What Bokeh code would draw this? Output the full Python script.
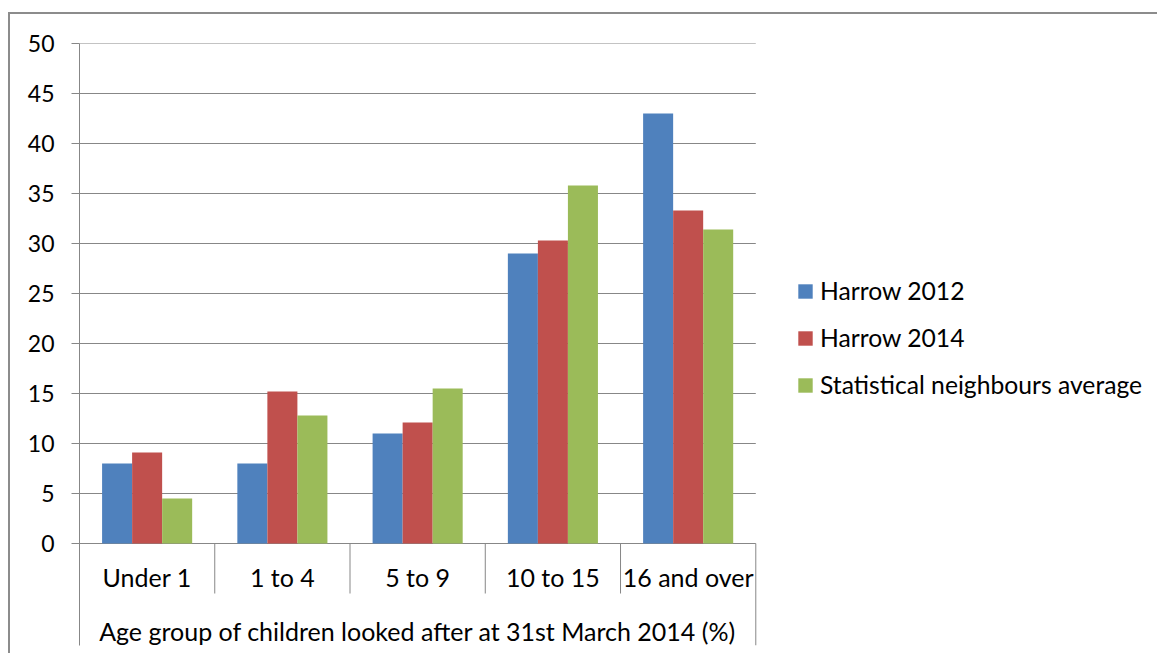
from bokeh.plotting import figure
from bokeh.models import Range1d, Legend, LegendItem, FixedTicker, ColumnDataSource
from bokeh.core.properties import value
from bokeh.transform import dodge
from bokeh.embed import file_html
from bokeh.resources import INLINE

categories = ["Under 1", "1 to 4", "5 to 9", "10 to 15", "16 and over"]
harrow_2012 = [8, 8, 11, 29, 43]
harrow_2014 = [9.1, 15.2, 12.1, 30.3, 33.3]
neighbours = [4.5, 12.8, 15.5, 35.8, 31.4]
series_names = ["Harrow 2012", "Harrow 2014", "Statistical neighbours average"]
colors = ["#4F81BD", "#C0504D", "#9BBB59"]
y_ticks = [0, 5, 10, 15, 20, 25, 30, 35, 40, 45, 50]
x_title = "Age group of children looked after at 31st March 2014 (%)"

FONT = "Lato"
FS = "25px"
FS_Y = "23px"
GRAY = "#878787"

n = len(categories)
pos = [i + 0.5 for i in range(n)]          # category centres on the x scale

# the frame covers the plot area, the two category label rows and the legend area
p = figure(width=1157, height=653,
           x_range=Range1d(0, 7.97),
           y_range=Range1d(-10.2, 50),
           output_backend="svg", toolbar_location=None,
           min_border_left=79, min_border_top=43, min_border_right=0,
           min_border_bottom=8,
           styles={"background": "linear-gradient(#8c8c8c,#8c8c8c) 9px 12px / 1148px 2px no-repeat, "
                                 "linear-gradient(#8c8c8c,#8c8c8c) 8px 12px / 2px 641px no-repeat, #ffffff"})
p.outline_line_color = None
p.background_fill_color = "white"
p.border_fill_alpha = 0
p.xaxis.visible = False
p.xgrid.visible = False
p.ygrid.visible = False

# horizontal gridlines, only across the category area
p.segment(x0=[0] * len(y_ticks), x1=[n] * len(y_ticks), y0=y_ticks, y1=y_ticks,
          line_color=GRAY, line_width=1, level="underlay")

src = ColumnDataSource(dict(x=pos, h12=harrow_2012, h14=harrow_2014, nb=neighbours))
bw = 0.222
renderers = []
for field, off, col in zip(["h12", "h14", "nb"], [-bw, 0, bw], colors):
    r = p.vbar(x=dodge("x", off), top=field, width=bw, bottom=0,
               source=src, fill_color=col, line_color=None)
    renderers.append(r)

# y axis
yt = FixedTicker(ticks=y_ticks, minor_ticks=[])
p.yaxis.ticker = yt
p.yaxis.major_tick_in = 0
p.yaxis.major_tick_out = 8
p.yaxis.minor_tick_line_color = None
p.yaxis.axis_line_color = GRAY
p.yaxis.major_tick_line_color = GRAY
p.yaxis.major_label_standoff = 17
p.yaxis.major_label_text_font = FONT
p.yaxis.major_label_text_font_size = FS_Y
p.yaxis.major_label_text_color = "#000000"

# Excel style multi-level category axis
bounds = list(range(1, n))
p.segment(x0=bounds, y0=[0] * len(bounds), x1=bounds, y1=[-5] * len(bounds),
          line_color=GRAY, line_width=1)
p.segment(x0=[n], y0=[0], x1=[n], y1=[-10.2], line_color=GRAY, line_width=1)

p.text(x=pos, y=[-3.3] * n, text=categories,
       text_font=value(FONT), text_font_size=FS, text_color="#000000",
       text_align="center", text_baseline="middle")
p.text(x=[n / 2], y=[-8.7], text=[x_title],
       text_font=value(FONT), text_font_size=FS, text_color="#000000",
       text_align="center", text_baseline="middle")

legend = Legend(items=[LegendItem(label=nm, renderers=[r]) for nm, r in zip(series_names, renderers)],
                location=(717, 246), padding=0, margin=0,
                border_line_color=None, background_fill_alpha=0,
                glyph_width=18, glyph_height=18, label_standoff=6,
                label_height=20, spacing=18,
                label_text_font=FONT, label_text_font_size="24.7px",
                label_text_color="#000000")
p.add_layout(legend)

open("out.html", "w").write(file_html(p, INLINE))
